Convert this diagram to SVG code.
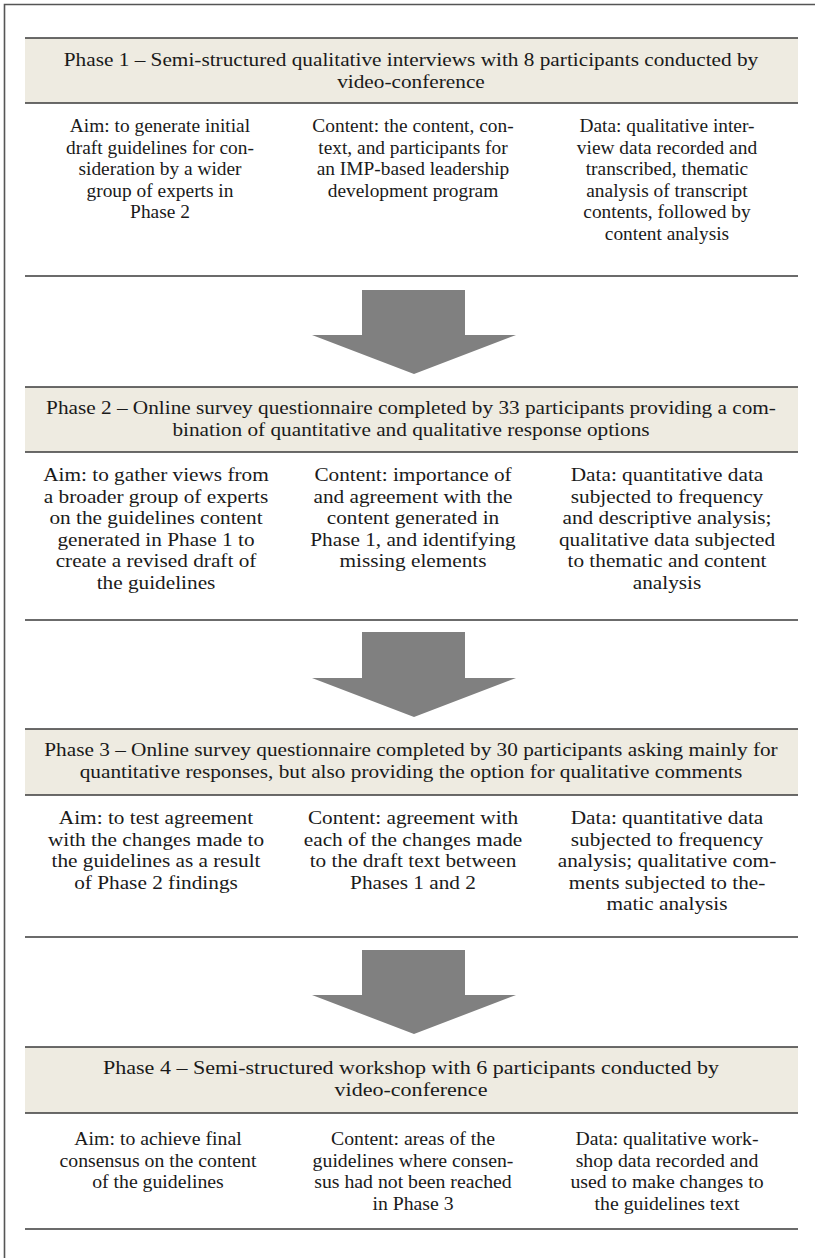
<svg xmlns="http://www.w3.org/2000/svg" width="815" height="1258" viewBox="0 0 815 1258">
<style>
.t{font-family:"Liberation Serif","Times New Roman",serif;font-size:19px;fill:#1a1a1a;text-anchor:middle}
.hd{fill:#eeebe1}
.ln{stroke:#3a3a3a;stroke-width:1.6;fill:none}
.ar{fill:#808080}
</style>
<rect width="815" height="1258" fill="#ffffff"/>
<path d="M4.5 1258 V4.5 H815" stroke="#555" stroke-width="1.6" fill="none"/>
<g id="phase1">
<rect class="hd" x="25" y="38" width="773" height="65"/>
<line class="ln" x1="25" y1="38" x2="798" y2="38"/>
<line class="ln" x1="25" y1="103" x2="798" y2="103"/>
<g transform="scale(1.12 1)">
<text class="t" x="366.96" y="66">Phase 1 – Semi-structured qualitative interviews with 8 participants conducted by</text>
<text class="t" x="366.96" y="88">video-conference</text>
</g>
<g transform="scale(1.02 1)">
<text class="t" x="156.86" y="132">Aim: to generate initial</text>
<text class="t" x="156.86" y="153.6">draft guidelines for con-</text>
<text class="t" x="156.86" y="175.2">sideration by a wider</text>
<text class="t" x="156.86" y="196.8">group of experts in</text>
<text class="t" x="156.86" y="218.4">Phase 2</text>
<text class="t" x="404.9" y="132">Content: the content, con-</text>
<text class="t" x="404.9" y="153.6">text, and participants for</text>
<text class="t" x="404.9" y="175.2">an IMP-based leadership</text>
<text class="t" x="404.9" y="196.8">development program</text>
<text class="t" x="653.9" y="132">Data: qualitative inter-</text>
<text class="t" x="653.9" y="153.6">view data recorded and</text>
<text class="t" x="653.9" y="175.2">transcribed, thematic</text>
<text class="t" x="653.9" y="196.8">analysis of transcript</text>
<text class="t" x="653.9" y="218.4">contents, followed by</text>
<text class="t" x="653.9" y="240">content analysis</text>
</g>
<line class="ln" x1="25" y1="276" x2="798" y2="276"/>
</g>
<g id="phase2">
<rect class="hd" x="25" y="387" width="773" height="65"/>
<line class="ln" x1="25" y1="387" x2="798" y2="387"/>
<line class="ln" x1="25" y1="452" x2="798" y2="452"/>
<g transform="scale(1.12 1)">
<text class="t" x="366.96" y="414">Phase 2 – Online survey questionnaire completed by 33 participants providing a com-</text>
<text class="t" x="366.96" y="436">bination of quantitative and qualitative response options</text>
</g>
<g transform="scale(1.12 1)">
<text class="t" x="139.29" y="481">Aim: to gather views from</text>
<text class="t" x="139.29" y="502.6">a broader group of experts</text>
<text class="t" x="139.29" y="524.2">on the guidelines content</text>
<text class="t" x="139.29" y="545.8">generated in Phase 1 to</text>
<text class="t" x="139.29" y="567.4">create a revised draft of</text>
<text class="t" x="139.29" y="589">the guidelines</text>
<text class="t" x="368.75" y="481">Content: importance of</text>
<text class="t" x="368.75" y="502.6">and agreement with the</text>
<text class="t" x="368.75" y="524.2">content generated in</text>
<text class="t" x="368.75" y="545.8">Phase 1, and identifying</text>
<text class="t" x="368.75" y="567.4">missing elements</text>
<text class="t" x="595.54" y="481">Data: quantitative data</text>
<text class="t" x="595.54" y="502.6">subjected to frequency</text>
<text class="t" x="595.54" y="524.2">and descriptive analysis;</text>
<text class="t" x="595.54" y="545.8">qualitative data subjected</text>
<text class="t" x="595.54" y="567.4">to thematic and content</text>
<text class="t" x="595.54" y="589">analysis</text>
</g>
<line class="ln" x1="25" y1="620" x2="798" y2="620"/>
</g>
<g id="phase3">
<rect class="hd" x="25" y="729" width="773" height="66"/>
<line class="ln" x1="25" y1="729" x2="798" y2="729"/>
<line class="ln" x1="25" y1="795" x2="798" y2="795"/>
<g transform="scale(1.12 1)">
<text class="t" x="366.96" y="756">Phase 3 – Online survey questionnaire completed by 30 participants asking mainly for</text>
<text class="t" x="366.96" y="778">quantitative responses, but also providing the option for qualitative comments</text>
</g>
<g transform="scale(1.12 1)">
<text class="t" x="139.29" y="824">Aim: to test agreement</text>
<text class="t" x="139.29" y="845.6">with the changes made to</text>
<text class="t" x="139.29" y="867.2">the guidelines as a result</text>
<text class="t" x="139.29" y="888.8">of Phase 2 findings</text>
<text class="t" x="368.75" y="824">Content: agreement with</text>
<text class="t" x="368.75" y="845.6">each of the changes made</text>
<text class="t" x="368.75" y="867.2">to the draft text between</text>
<text class="t" x="368.75" y="888.8">Phases 1 and 2</text>
<text class="t" x="595.54" y="824">Data: quantitative data</text>
<text class="t" x="595.54" y="845.6">subjected to frequency</text>
<text class="t" x="595.54" y="867.2">analysis; qualitative com-</text>
<text class="t" x="595.54" y="888.8">ments subjected to the-</text>
<text class="t" x="595.54" y="910.4">matic analysis</text>
</g>
<line class="ln" x1="25" y1="937" x2="798" y2="937"/>
</g>
<g id="phase4">
<rect class="hd" x="25" y="1047" width="773" height="66"/>
<line class="ln" x1="25" y1="1047" x2="798" y2="1047"/>
<line class="ln" x1="25" y1="1113" x2="798" y2="1113"/>
<g transform="scale(1.16 1)">
<text class="t" x="354.31" y="1074">Phase 4 – Semi-structured workshop with 6 participants conducted by</text>
<text class="t" x="354.31" y="1096">video-conference</text>
</g>
<g transform="scale(1.04 1)">
<text class="t" x="151.92" y="1145">Aim: to achieve final</text>
<text class="t" x="151.92" y="1166.6">consensus on the content</text>
<text class="t" x="151.92" y="1188.2">of the guidelines</text>
<text class="t" x="397.12" y="1145">Content: areas of the</text>
<text class="t" x="397.12" y="1166.6">guidelines where consen-</text>
<text class="t" x="397.12" y="1188.2">sus had not been reached</text>
<text class="t" x="397.12" y="1209.8">in Phase 3</text>
<text class="t" x="641.35" y="1145">Data: qualitative work-</text>
<text class="t" x="641.35" y="1166.6">shop data recorded and</text>
<text class="t" x="641.35" y="1188.2">used to make changes to</text>
<text class="t" x="641.35" y="1209.8">the guidelines text</text>
</g>
<line class="ln" x1="25" y1="1229" x2="798" y2="1229"/>
</g>
<g id="connectors">
<polygon class="ar" points="362,290 465,290 465,335 516,335 414,374 312,335 362,335"/>
<polygon class="ar" points="362,632 465,632 465,678 516,678 414,717 312,678 362,678"/>
<polygon class="ar" points="362,950 465,950 465,995 516,995 414,1034 312,995 362,995"/>
</g>
</svg>
